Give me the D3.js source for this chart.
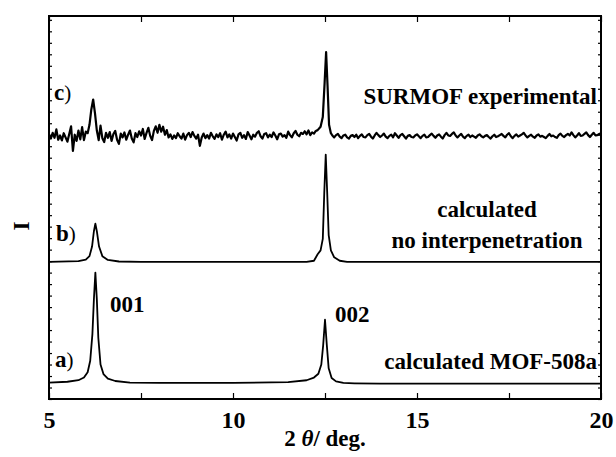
<!DOCTYPE html>
<html>
<head>
<meta charset="utf-8">
<script src="https://cdn.jsdelivr.net/npm/d3@7"></script>
<style>
  body { margin: 0; background: #fff; }
  text { font-family: "Liberation Serif", "Times New Roman", serif; font-weight: bold; fill: #000; }
</style>
</head>
<body>
<svg id="chart" width="616" height="457"></svg>
<script>
// x ticks (2 theta, deg)
var xTicks = [5, 7.5, 10, 12.5, 15, 17.5, 20];
var xTickLabels = ["5", "", "10", "", "15", "", "20"];

// a) calculated MOF-508a  [2theta, intensity]
var seriesA = [
  [5.0, 0.3], [5.5, 0.5], [5.8, 0.9], [5.95, 1.6], [6.05, 3], [6.12, 6], [6.18, 13],
  [6.22, 22], [6.26, 29], [6.3, 22], [6.34, 12], [6.4, 5], [6.48, 2.5], [6.6, 1.3],
  [6.8, 0.7], [7.2, 0.3], [8.0, 0.2], [10.0, 0.2], [11.5, 0.4], [12.0, 0.9], [12.2, 1.6],
  [12.32, 2.6], [12.4, 5], [12.45, 10], [12.5, 16.7], [12.55, 10], [12.6, 4], [12.68, 1.5],
  [12.8, 0.6], [13.0, 0.2], [13.3, 0.1], [14.0, 0], [17.0, 0], [20.0, 0]
];

// b) calculated, no interpenetration
var seriesB = [
  [5.0, 0], [5.8, 0.2], [6.0, 0.6], [6.1, 1.5], [6.17, 4], [6.22, 8], [6.26, 10],
  [6.3, 8], [6.36, 4], [6.45, 1.5], [6.6, 0.5], [6.9, 0.1], [7.5, 0], [12.0, 0],
  [12.2, 0.3], [12.3, 2], [12.38, 3], [12.44, 6], [12.48, 18], [12.52, 28], [12.56, 18],
  [12.6, 7], [12.66, 3], [12.75, 1.2], [12.9, 0.3], [13.1, 0], [20.0, 0]
];

// c) SURMOF experimental
var seriesC = [
  [5.00, 0.3], [5.05, -0.6], [5.10, 0.9], [5.15, -0.4], [5.20, 1.8], [5.25, -0.9], [5.30, 0.2],
  [5.35, -1.1], [5.40, 0.8], [5.45, -0.3], [5.50, -1.4], [5.55, 0.6], [5.60, 2.6], [5.65, -3.8],
  [5.70, 0.4], [5.75, -1.2], [5.80, 1.5], [5.85, -0.8], [5.90, 2.4], [5.95, -1.0], [6.00, 1.2],
  [6.05, 0.8], [6.10, 3], [6.15, 7], [6.20, 9.6], [6.25, 6], [6.30, 1.5], [6.35, -1.0],
  [6.40, 2.8], [6.45, -0.5], [6.50, -1.5], [6.55, 0.9], [6.60, -0.4], [6.65, 1.1], [6.70, -1.2],
  [6.75, 0.6], [6.80, 1.4], [6.85, -0.9], [6.90, -2.0], [6.95, 0.7], [7.00, -0.3], [7.05, 1.0],
  [7.10, -0.9], [7.15, 0.4], [7.20, 1.5], [7.25, -0.6], [7.30, -1.6], [7.35, 0.8], [7.40, -0.2],
  [7.45, 1.3], [7.50, 0.2], [7.55, 1.9], [7.60, -0.7], [7.65, 0.9], [7.70, 2.2], [7.75, 0.1],
  [7.80, -1.0], [7.85, 1.4], [7.90, 2.6], [7.95, 0.9], [8.00, 3.0], [8.05, 1.2], [8.10, 2.5],
  [8.15, 0.4], [8.20, 1.6], [8.25, -0.3], [8.30, 0.5], [8.35, -0.7], [8.40, 0.2], [8.45, -0.5],
  [8.50, 0.8], [8.55, 0.0], [8.60, -0.6], [8.65, 0.7], [8.70, -0.9], [8.75, 0.3], [8.80, 0.9],
  [8.85, -0.2], [8.90, 1.1], [8.95, 0.1], [9.00, -0.6], [9.05, 0.4], [9.10, -2.5], [9.15, -0.3],
  [9.20, 0.7], [9.25, -0.5], [9.30, 0.3], [9.35, -0.6], [9.40, 0.9], [9.45, 0.0], [9.50, -0.7],
  [9.55, 0.5], [9.60, -0.2], [9.65, 0.8], [9.70, -0.9], [9.75, 0.4], [9.80, 1.2], [9.85, -0.3],
  [9.90, 0.5], [9.95, -0.6], [10.00, 0.7], [10.05, -0.2], [10.10, -1.1], [10.15, 0.5], [10.20, 0.9],
  [10.25, -0.4], [10.30, 0.3], [10.35, -0.7], [10.40, 1.1], [10.45, 0.2], [10.50, -0.8], [10.55, 0.4],
  [10.60, -0.1], [10.65, 0.9], [10.70, 1.3], [10.75, 0.0], [10.80, -0.6], [10.85, 0.6], [10.90, 0.8],
  [10.95, -0.3], [11.00, 0.4], [11.05, -0.2], [11.10, 1.0], [11.15, 0.2], [11.20, -0.8], [11.25, 0.5],
  [11.30, 0.7], [11.35, -0.1], [11.40, 0.3], [11.45, -0.4], [11.50, 1.2], [11.55, 0.3], [11.60, -0.3],
  [11.65, 0.8], [11.70, 1.4], [11.75, 0.4], [11.80, 0.0], [11.85, 0.9], [11.90, 0.6], [11.95, 1.3],
  [12.00, 0.5], [12.05, 1.5], [12.10, 0.3], [12.15, 1.0], [12.20, 0.7], [12.25, 1.4], [12.30, 1.6],
  [12.38, 2.5], [12.44, 5], [12.49, 14], [12.53, 22], [12.57, 13], [12.61, 3], [12.66, 0.8],
  [12.70, 0.2], [12.75, -0.3], [12.80, 0.3], [12.85, 0.6], [12.90, -0.1], [12.95, -0.5], [13.00, 0.2],
  [13.05, 0.4], [13.10, -0.3], [13.15, -0.6], [13.20, 0.1], [13.25, 0.3], [13.30, -0.2], [13.35, 0.4],
  [13.40, -0.5], [13.45, 0.1], [13.50, 0.5], [13.55, -0.2], [13.60, -0.3], [13.65, 0.3], [13.70, 0.6],
  [13.75, -0.1], [13.80, -0.6], [13.85, 0.2], [13.90, 0.9], [13.95, 0.3], [14.00, -0.2], [14.05, 0.2],
  [14.10, 0.7], [14.15, -0.1], [14.20, -0.5], [14.25, 0.1], [14.30, 0.4], [14.35, -0.3], [14.40, 0.8],
  [14.45, 0.2], [14.50, -0.4], [14.55, 0.3], [14.60, 0.6], [14.65, 0.0], [14.70, -0.6], [14.75, 0.1],
  [14.80, 0.3], [14.85, -0.2], [14.90, -0.3], [14.95, 0.2], [15.00, 0.5], [15.05, 0.0], [15.10, -0.5],
  [15.15, 0.1], [15.20, 0.4], [15.25, -0.3], [15.30, -0.2], [15.35, 0.3], [15.40, 0.7], [15.45, 0.1],
  [15.50, -0.4], [15.55, 0.2], [15.60, 0.5], [15.65, -0.1], [15.70, -0.6], [15.75, 0.3], [15.80, 0.9],
  [15.85, 0.2], [15.90, 0.1], [15.95, 0.6], [16.00, 1.0], [16.05, 0.2], [16.10, -0.3], [16.15, 0.2],
  [16.20, 0.6], [16.25, -0.1], [16.30, -0.5], [16.35, 0.1], [16.40, 0.4], [16.45, -0.2], [16.50, 0.2],
  [16.55, -0.1], [16.60, -0.4], [16.65, 0.2], [16.70, 0.5], [16.75, 0.0], [16.80, -0.3], [16.85, 0.1],
  [16.90, 0.3], [16.95, -0.2], [17.00, -0.6], [17.05, 0.0], [17.10, 0.4], [17.15, -0.2], [17.20, 0.0],
  [17.25, 0.3], [17.30, 0.6], [17.35, 0.1], [17.40, -0.3], [17.45, 0.4], [17.50, 0.8], [17.55, 0.0],
  [17.60, -0.5], [17.65, 0.1], [17.70, 0.5], [17.75, -0.1], [17.80, 0.2], [17.85, 0.5], [17.90, 0.9],
  [17.95, 0.2], [18.00, -0.3], [18.05, 0.1], [18.10, 0.4], [18.15, -0.1], [18.20, -0.4], [18.25, 0.2],
  [18.30, 0.5], [18.35, -0.1], [18.40, 0.1], [18.45, -0.2], [18.50, -0.5], [18.55, 0.1], [18.60, 0.6],
  [18.65, 0.0], [18.70, 0.2], [18.75, -0.2], [18.80, -0.4], [18.85, 0.3], [18.90, 0.7], [18.95, 0.1],
  [19.00, -0.2], [19.05, 0.3], [19.10, 0.6], [19.15, 0.2], [19.20, 1.0], [19.25, 0.3], [19.30, -0.3],
  [19.35, 0.2], [19.40, 0.8], [19.45, 0.1], [19.50, 0.2], [19.55, 0.6], [19.60, 1.0], [19.65, 0.3],
  [19.70, -0.2], [19.75, 0.4], [19.80, 0.9], [19.85, 0.2], [19.90, 0.3], [19.95, 0.6], [20.00, 0.8]
];

var svg = d3.select("#chart");
var plotLeft = 49, plotRight = 601, plotTop = 16, plotBottom = 399;

var x = d3.scaleLinear().domain([5, 20]).range([plotLeft, plotRight]);
var y = d3.scaleLinear().domain([0, 100]).range([plotBottom, plotTop]);

// vertical offsets for stacked traces
var traces = [
  { data: seriesA, offset: 4, width: 1.8 },
  { data: seriesB, offset: 35.8, width: 1.8 },
  { data: seriesC, offset: 68.6, width: 2.2 }
];

var line = d3.line()
  .x(function (d) { return x(d[0]); })
  .y(function (d) { return y(d[1]); });

traces.forEach(function (t) {
  svg.append("path")
    .datum(t.data.map(function (d) { return [d[0], d[1] + t.offset]; }))
    .attr("d", line)
    .attr("fill", "none")
    .attr("stroke", "#000")
    .attr("stroke-width", t.width)
    .attr("stroke-linejoin", "round");
});

// axes, ticks pointing inward
var yTicks = d3.range(0, 101, 3);

svg.append("g")
  .attr("transform", "translate(0," + plotBottom + ")")
  .call(d3.axisBottom(x).tickValues(xTicks).tickSize(-6).tickPadding(12)
    .tickFormat(function (d, i) { return xTickLabels[i]; }));
svg.append("g")
  .attr("transform", "translate(0," + plotTop + ")")
  .call(d3.axisTop(x).tickValues(xTicks).tickSize(-6).tickFormat(""));
svg.append("g")
  .attr("transform", "translate(" + plotLeft + ",0)")
  .call(d3.axisLeft(y).tickValues(yTicks).tickSize(-3).tickFormat(""));
svg.append("g")
  .attr("transform", "translate(" + plotRight + ",0)")
  .call(d3.axisRight(y).tickValues(yTicks).tickSize(-3).tickFormat(""));

svg.selectAll(".domain").remove();
svg.selectAll(".tick line").attr("stroke", "#000").attr("stroke-width", 1.2);
svg.selectAll(".tick text")
  .style("font-family", "'Liberation Serif', serif")
  .style("font-weight", "bold")
  .style("font-size", "24px")
  .attr("fill", "#000");

svg.append("rect")
  .attr("x", plotLeft).attr("y", plotTop)
  .attr("width", plotRight - plotLeft).attr("height", plotBottom - plotTop)
  .attr("fill", "none").attr("stroke", "#000").attr("stroke-width", 2);

// labels
function label(px, py, txt, anchor) {
  return svg.append("text")
    .attr("x", px).attr("y", py)
    .attr("text-anchor", anchor || "start")
    .style("font-size", "23px")
    .text(txt);
}

label(597, 104, "SURMOF experimental", "end");
label(487, 217, "calculated", "middle");
label(487, 248, "no interpenetration", "middle");
label(597, 369, "calculated MOF-508a", "end");
label(110, 312, "001");
label(335, 322, "002");

[["c", 54, 100], ["b", 56, 241], ["a", 55, 367]].forEach(function (p) {
  var t = label(p[1], p[2], p[0]);
  t.append("tspan").style("font-weight", "normal").style("font-size", "21px").text(")");
});

var xl = svg.append("text")
  .attr("x", 325).attr("y", 446)
  .attr("text-anchor", "middle")
  .style("font-size", "23px")
  .text("2 ");
xl.append("tspan").style("font-style", "italic").text("θ");
xl.append("tspan").text("/ deg.");

svg.append("text")
  .attr("transform", "translate(29,226) rotate(-90)")
  .attr("text-anchor", "middle")
  .style("font-size", "23px")
  .text("I");
</script>
</body>
</html>
